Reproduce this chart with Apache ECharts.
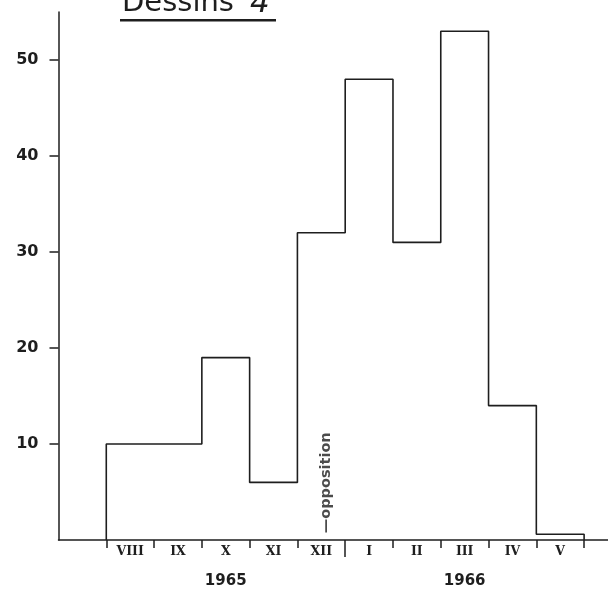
<!DOCTYPE html>
<html>
<head>
<meta charset="utf-8">
<script src="https://cdn.jsdelivr.net/npm/echarts@6/dist/echarts.min.js"></script>
<style>
html,body{margin:0;padding:0;background:#fff;}
#chart{width:608px;height:589px;}
</style>
</head>
<body>
<div id="chart"></div>
<script>
// ---- data ----
const months = ['VIII', 'IX', 'X', 'XI', 'XII', 'I', 'II', 'III', 'IV', 'V'];
const counts = [10, 10, 19, 6, 32, 48, 31, 53, 14, 0.6];
const years = ['1965', '1966'];
const monthYear = [0, 0, 0, 0, 0, 1, 1, 1, 1, 1];
const yTickValues = [10, 20, 30, 40, 50];
const oppositionText = '—opposition';
const oppositionAt = [4.6, 0.7]; // within December 1965, just above the axis

// ---- derived ----
const n = months.length;
const boundaries = months.map((m, i) => i).concat([n]);
const monthCenters = months.map((m, i) => i + 0.5);
const yearCenters = years.map((y, k) => {
  const idx = monthYear.map((v, i) => v === k ? i : -1).filter(i => i >= 0);
  return idx.reduce((a, b) => a + b, 0) / idx.length + 0.5;
});
const yearBoundary = monthYear.findIndex(v => v === 1);
const outline = [[0, 0]].concat(counts.map((v, i) => [i, v])).concat([[n, 0]]);

const ink = '#1e1e1e';
const chart = echarts.init(document.getElementById('chart'), null, {renderer: 'canvas'});
chart.setOption({
  backgroundColor: '#fff',
  animation: false,
  title: {
    text: '{a|Dessins}{b|4}',
    left: 117,
    top: -17,
    textStyle: {
      fontWeight: 'normal',
      rich: {
        a: {fontFamily: 'DejaVu Sans', fontSize: 29, fontWeight: 'normal', color: ink},
        b: {fontFamily: 'DejaVu Sans', fontSize: 31, fontWeight: 'normal', fontStyle: 'italic', color: ink, padding: [0, 0, 0, 16]}
      }
    }
  },
  graphic: [{
    type: 'rect', left: 120, top: 19, silent: true,
    shape: {width: 156, height: 2.5},
    style: {fill: ink}
  }],
  grid: {left: 58.5, right: 0, top: 12, bottom: 49, containLabel: false},
  xAxis: [{
    type: 'value', min: -1, max: 10.5, position: 'bottom',
    axisLine: {show: true, onZero: false, lineStyle: {color: ink, width: 1.5}},
    axisTick: {show: true, customValues: boundaries, length: 8, lineStyle: {color: ink, width: 1.5}},
    axisLabel: {
      show: true, customValues: monthCenters, margin: 5,
      formatter: v => months[Math.round(v - 0.5)],
      fontFamily: 'DejaVu Serif', fontWeight: 'bold', fontSize: 12.5, color: ink
    },
    splitLine: {show: false}
  }, {
    type: 'value', min: -1, max: 10.5, position: 'bottom',
    axisLine: {show: false, onZero: false},
    axisTick: {show: true, customValues: [yearBoundary], length: 17, lineStyle: {color: ink, width: 1.5}},
    axisLabel: {
      show: true, customValues: yearCenters, margin: 34,
      formatter: v => years[yearCenters.indexOf(v)],
      fontFamily: 'DejaVu Sans', fontWeight: 'bold', fontSize: 15, color: ink
    },
    splitLine: {show: false}
  }],
  yAxis: [{
    type: 'value', min: 0, max: 55,
    axisLine: {show: true, onZero: false, lineStyle: {color: ink, width: 1.5}},
    axisTick: {show: true, customValues: yTickValues, length: 9, lineStyle: {color: ink, width: 1.5}},
    axisLabel: {
      show: true, customValues: yTickValues, margin: 20,
      fontFamily: 'DejaVu Sans', fontWeight: 'bold', fontSize: 16, color: ink
    },
    splitLine: {show: false}
  }],
  series: [{
    type: 'line',
    xAxisIndex: 0, yAxisIndex: 0,
    data: outline,
    step: 'end',
    showSymbol: false,
    silent: true,
    lineStyle: {color: ink, width: 1.6}
  }, {
    type: 'scatter',
    xAxisIndex: 0, yAxisIndex: 0,
    data: [oppositionAt],
    symbolSize: 1,
    silent: true,
    itemStyle: {color: 'rgba(0,0,0,0)'},
    label: {
      show: true, formatter: oppositionText, position: 'inside',
      rotate: 90, align: 'left', verticalAlign: 'middle',
      fontFamily: 'DejaVu Sans', fontWeight: 'bold', fontSize: 14.5, color: ink
    }
  }]
});
</script>
</body>
</html>
